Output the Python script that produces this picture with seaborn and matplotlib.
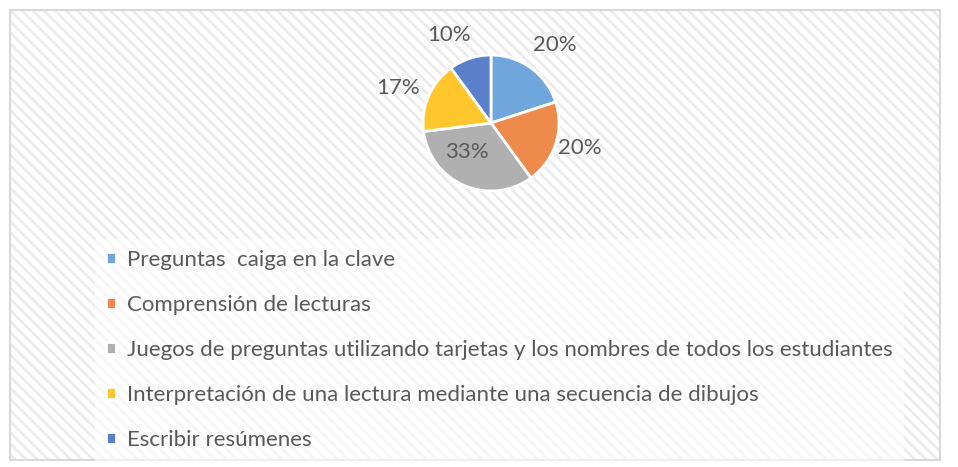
import seaborn as sns
import matplotlib.pyplot as plt
import numpy as np
from matplotlib.patches import Rectangle

categories = ['Preguntas  caiga en la clave',
              'Comprensión de lecturas',
              'Juegos de preguntas utilizando tarjetas y los nombres de todos los estudiantes',
              'Interpretación de una lectura mediante una secuencia de dibujos',
              'Escribir resúmenes']
values = [20, 20, 33, 17, 10]
colors = ['#6FA6DC', '#EE8A4C', '#B0B0B0', '#FFC72C', '#5A80CC']
# Excel-style label placement: distance from centre and angle shift from wedge middle
label_dist = [1.48, 1.36, 0.55, 1.46, 1.43]
label_shift = [-3.4, 2.3, -16, 2.5, 7.5]

sns.set_style('white')
plt.rcParams['font.family'] = ['Lato', 'DejaVu Sans']
plt.rcParams['hatch.linewidth'] = 2.0
plt.rcParams['hatch.color'] = '#ECECEC'

fig = plt.figure(figsize=(9.58, 4.67), dpi=100)

# hatched chart area with thin grey border
bg = fig.add_axes([0, 0, 1, 1])
bg.set_xlim(0, 958)
bg.set_ylim(467, 0)
bg.axis('off')
bg.add_patch(Rectangle((10, 10), 930, 450, facecolor='white', edgecolor='#ECECEC', hatch='\\\\\\', lw=0))
bg.add_patch(Rectangle((10, 10), 930, 450, facecolor='none', edgecolor='#D9D9D9', lw=1.5))

ax = fig.add_axes([423 / 958, 1 - 191 / 467, 136 / 958, 136 / 467])
wedges, _ = ax.pie(values, colors=colors, startangle=90, counterclock=False,
                   wedgeprops={'edgecolor': 'white', 'linewidth': 2})
ax.set_xlim(-1, 1)
ax.set_ylim(-1, 1)
ax.set_aspect('equal')

total = sum(values)
start = 90
for v, d, s in zip(values, label_dist, label_shift):
    mid = np.deg2rad(start - 360 * v / total / 2 + s)
    start -= 360 * v / total
    ax.text(d * np.cos(mid), d * np.sin(mid), f'{v}%', ha='center', va='center',
            fontsize=16, color='#595959')

leg = fig.legend(wedges, categories, loc='upper left', bbox_to_anchor=(95 / 958, 1 - 239 / 467),
                 fontsize=16, labelcolor='#595959', frameon=True, fancybox=False,
                 handlelength=0.45, handleheight=0.45, handletextpad=0.5,
                 labelspacing=1.12, borderpad=0.5, borderaxespad=0)
leg.get_frame().set_facecolor('white')
leg.get_frame().set_alpha(0.6)
leg.get_frame().set_edgecolor('none')

fig.savefig('out.png', dpi=100)
